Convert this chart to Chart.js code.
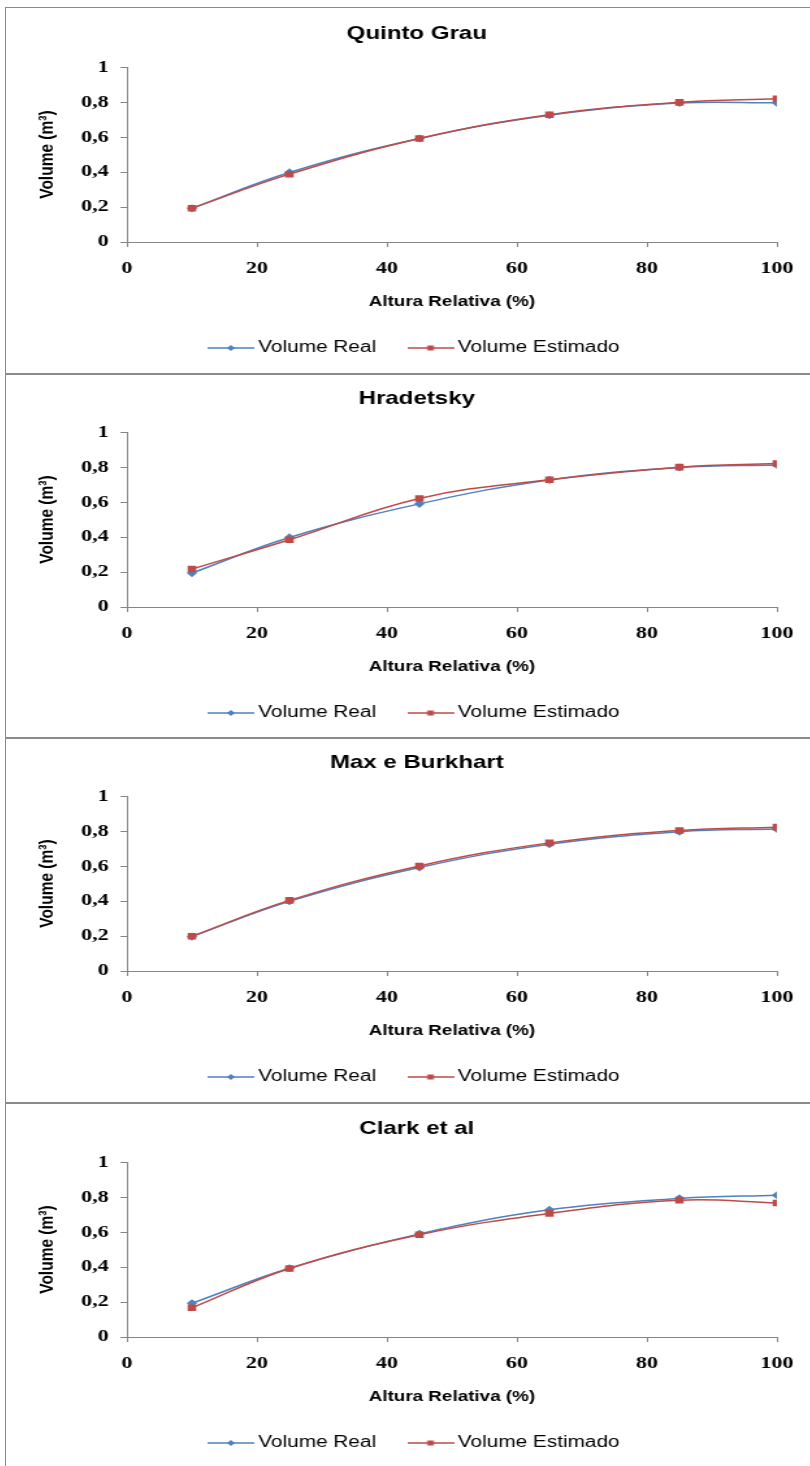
<!DOCTYPE html>
<html lang="pt">
<head>
<meta charset="utf-8">
<title>Volume Real x Volume Estimado</title>
<script src="https://cdn.jsdelivr.net/npm/chart.js@4/dist/chart.umd.min.js"></script>
<style>
  html, body { margin: 0; padding: 0; background: #fff; }
  body { position: relative; width: 810px; height: 1466px; overflow: hidden; }
  .quadro { position: absolute; left: 5px; width: 840px; border: 1px solid #8a8a8a; box-sizing: border-box; }
  canvas.grafico { position: absolute; left: 6px; transform-origin: 0 0; }
</style>
</head>
<body>
<script>
// os graficos foram feitos estreitos e esticados na horizontal
const ESTICA = 1.3;
const LARGURA = 632;
const ALTURA = 358;

const alturaRelativa = [10, 25, 45, 65, 85, 100];
const xTicks = ['0', '20', '40', '60', '80', '100'];
const yTicks = ['0', '0,2', '0,4', '0,6', '0,8', '1'];

const titulos = ['Quinto Grau', 'Hradetsky', 'Max e Burkhart', 'Clark et al'];

const realQuintoGrau = [0.193, 0.398, 0.592, 0.725, 0.795, 0.796];
const estQuintoGrau = [0.193, 0.388, 0.592, 0.728, 0.799, 0.819];
const realHradetsky = [0.194, 0.398, 0.590, 0.727, 0.798, 0.813];
const estHradetsky = [0.217, 0.385, 0.621, 0.728, 0.800, 0.821];
const realMaxBurkhart = [0.197, 0.399, 0.592, 0.725, 0.797, 0.813];
const estMaxBurkhart = [0.199, 0.404, 0.601, 0.733, 0.804, 0.823];
const realClark = [0.193, 0.393, 0.590, 0.728, 0.793, 0.811];
const estClark = [0.167, 0.392, 0.585, 0.707, 0.783, 0.767];

const reais = [realQuintoGrau, realHradetsky, realMaxBurkhart, realClark];
const estimados = [estQuintoGrau, estHradetsky, estMaxBurkhart, estClark];

// moldura de cada quadro e topo de cada canvas
const molduras = [[7, 367], [374, 364], [738, 365], [1103, 370]];
const topos = [8, 373, 737, 1103];

const AZUL = '#4F81BD';
const VERMELHO = '#BE4B48';
const EIXO = '#868686';
const FONTE_TICKS = "'Liberation Serif', 'Times New Roman', serif";

Chart.defaults.font.family = "'Liberation Sans', Arial, sans-serif";
Chart.defaults.color = '#000';

// linha com marcador no meio, como na legenda do Excel
function marcaLegenda(cor, estilo) {
  const c = document.createElement('canvas');
  c.width = 36;
  c.height = 10;
  const g = c.getContext('2d');
  g.strokeStyle = cor;
  g.lineWidth = 1.5;
  g.beginPath();
  g.moveTo(0, 5);
  g.lineTo(36, 5);
  g.stroke();
  g.fillStyle = cor;
  if (estilo === 'rect') {
    g.fillRect(15.5, 2.5, 5, 5);
  } else {
    g.beginPath();
    g.moveTo(18, 2);
    g.lineTo(21, 5);
    g.lineTo(18, 8);
    g.lineTo(15, 5);
    g.closePath();
    g.fill();
  }
  return c;
}

const marcaReal = marcaLegenda(AZUL, 'rectRot');
const marcaEstimado = marcaLegenda(VERMELHO, 'rect');

function pontos(valores) {
  return alturaRelativa.map((x, i) => ({ x: x, y: valores[i] }));
}

titulos.forEach((titulo, k) => {
  const moldura = document.createElement('div');
  moldura.className = 'quadro';
  moldura.style.top = molduras[k][0] + 'px';
  moldura.style.height = molduras[k][1] + 'px';
  document.body.appendChild(moldura);

  const canvas = document.createElement('canvas');
  canvas.className = 'grafico';
  canvas.width = LARGURA;
  canvas.height = ALTURA;
  canvas.style.width = LARGURA + 'px';
  canvas.style.height = ALTURA + 'px';
  canvas.style.top = topos[k] + 'px';
  canvas.style.transform = 'scaleX(' + ESTICA + ')';
  document.body.appendChild(canvas);

  new Chart(canvas, {
    type: 'line',
    data: {
      datasets: [
        {
          label: 'Volume Real',
          data: pontos(reais[k]),
          borderColor: AZUL,
          backgroundColor: AZUL,
          borderWidth: 1.5,
          pointStyle: 'rectRot',
          pointRadius: 3,
          tension: 0.4,
          order: 1
        },
        {
          label: 'Volume Estimado',
          data: pontos(estimados[k]),
          borderColor: VERMELHO,
          backgroundColor: VERMELHO,
          borderWidth: 1.5,
          pointStyle: 'rect',
          pointRadius: 3.6,
          tension: 0.4,
          order: 0
        }
      ]
    },
    options: {
      responsive: false,
      animation: false,
      events: [],
      layout: { padding: { left: 8, right: 8, top: 0, bottom: 0 } },
      scales: {
        x: {
          type: 'linear',
          min: 0,
          max: 100,
          afterFit: (s) => { s.height = 69.2; },
          ticks: {
            stepSize: 20,
            padding: 11.5,
            maxRotation: 0,
            autoSkip: false,
            color: '#000',
            font: { family: FONTE_TICKS, size: 17, weight: 'bold' },
            callback: (v) => xTicks[Math.round(v / 20)]
          },
          grid: { drawOnChartArea: false, tickLength: 5, color: EIXO },
          border: { color: EIXO, width: 1 },
          title: {
            display: true,
            text: 'Altura Relativa (%)',
            color: '#000',
            font: { size: 14.5, weight: 'bold' },
            padding: { top: 0, bottom: 0.5 }
          }
        },
        y: {
          min: 0,
          max: 1,
          afterFit: (s) => { s.width = 85; },
          ticks: {
            stepSize: 0.2,
            padding: 9,
            color: '#000',
            font: { family: FONTE_TICKS, size: 17, weight: 'bold' },
            callback: (v) => yTicks[Math.round(v / 0.2)]
          },
          grid: { drawOnChartArea: false, tickLength: 5, color: EIXO },
          border: { color: EIXO, width: 1 },
          title: {
            display: true,
            text: 'Volume (m³)',
            color: '#000',
            font: { size: 15.5, weight: 'bold' },
            padding: { top: 14, bottom: 0 }
          }
        },
        // eixo vazio a direita, so reserva a margem do lado direito do grafico
        margem: {
          position: 'right',
          min: 0,
          max: 1,
          afterFit: (s) => { s.width = 31; },
          ticks: { display: false },
          grid: { display: false, drawTicks: false },
          border: { display: false }
        }
      },
      plugins: {
        title: {
          display: true,
          text: titulo,
          color: '#000',
          font: { size: 18.5, weight: 'bold' },
          padding: { top: 15, bottom: 22 }
        },
        legend: {
          position: 'bottom',
          labels: {
            usePointStyle: true,
            pointStyleWidth: 26,
            padding: 28.8,
            color: '#000',
            font: { size: 16 },
            generateLabels: () => [
              { text: 'Volume Real', pointStyle: marcaReal, fillStyle: AZUL, strokeStyle: AZUL, lineWidth: 0, hidden: false, datasetIndex: 0 },
              { text: 'Volume Estimado', pointStyle: marcaEstimado, fillStyle: VERMELHO, strokeStyle: VERMELHO, lineWidth: 0, hidden: false, datasetIndex: 1 }
            ]
          }
        },
        tooltip: { enabled: false }
      }
    }
  });
});
</script>
</body>
</html>
